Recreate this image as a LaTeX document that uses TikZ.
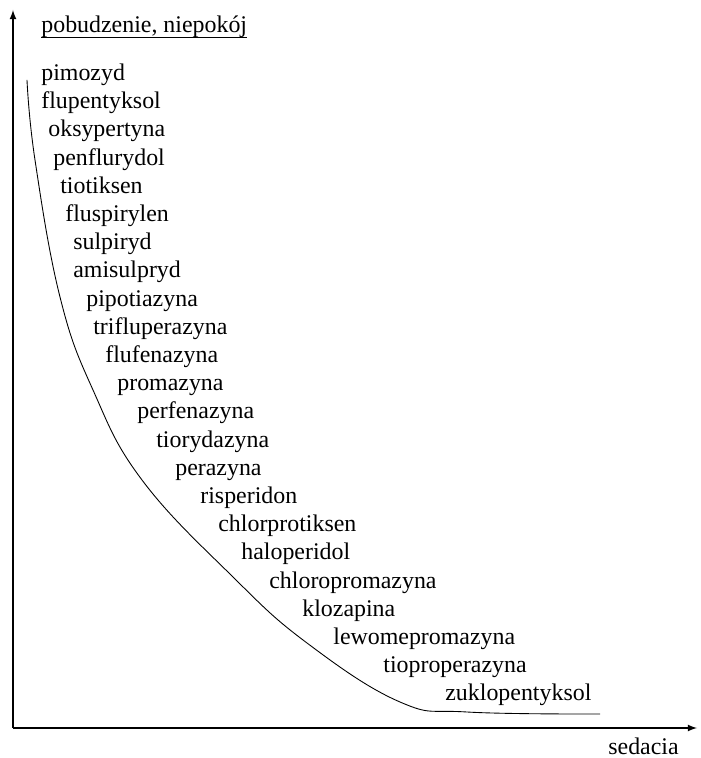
\documentclass[tikz,border=0pt]{standalone}
\usepackage{fontspec}
\setmainfont{Liberation Serif}
\usetikzlibrary{arrows}

\tikzset{
  lek/.style={anchor=base west, inner sep=0pt, font=\fontsize{13.6}{16}\selectfont},
  axis/.style={line width=0.8pt, ->},
}

\begin{document}
\begin{tikzpicture}[>=latex]
  \useasboundingbox (-0.26,-0.6) rectangle (13.74,14.56);
  % Axes
  \coordinate (O) at (0,0);
  \coordinate (ytop) at (0,14.36);
  \coordinate (xend) at (13.68,0);
  \draw[axis] (O) -- (ytop);
  \draw[axis] (O) -- (xend);
  % Labels
  \node[lek] (title) at (0.56,13.9) {pobudzenie, niepokój};
  \draw[line width=0.5pt] ([yshift=-2.3pt]title.base west) -- ([yshift=-2.3pt]title.base east);
  \node[lek] (sed) at (11.9,-0.54) {sedacia};
  \foreach \x/\lek [count=\i from 0] in {0.56/pimozyd, 0.56/flupentyksol, 0.70/oksypertyna,
      0.80/penflurydol, 0.94/tiotiksen, 1.04/fluspirylen, 1.20/sulpiryd, 1.20/amisulpryd,
      1.46/pipotiazyna, 1.60/trifluperazyna, 1.84/flufenazyna, 2.08/promazyna,
      2.48/perfenazyna, 2.86/tiorydazyna, 3.24/perazyna, 3.74/risperidon,
      4.10/chlorprotiksen, 4.56/haloperidol, 5.12/chloropromazyna, 5.78/klozapina,
      6.40/lewomepromazyna, 7.40/tioproperazyna, 8.64/zuklopentyksol}
    \node[lek] (l\i) at (\x,{12.95-0.564*\i}) {\lek};
  % Curve
  \draw[line width=0.5pt] plot[smooth, tension=0.7] coordinates {(0.28,12.96) (0.44,11.36)
    (0.94,8.62) (1.60,6.76) (2.58,4.96) (4.40,3.02)
    (5.88,1.70) (7.74,0.52) (9.08,0.32) (11.74,0.28)};
\end{tikzpicture}
\end{document}
